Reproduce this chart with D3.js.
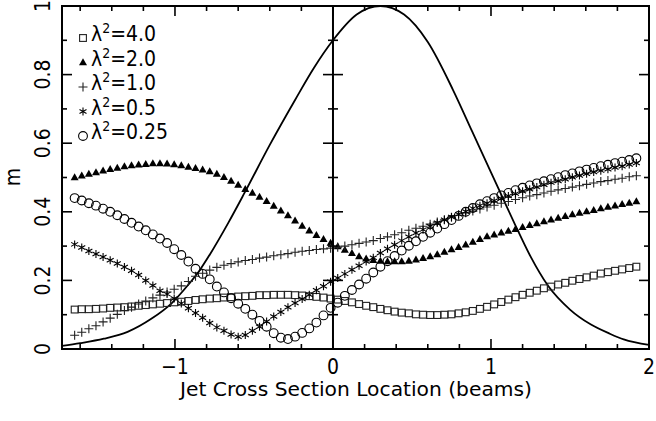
<!DOCTYPE html>
<html><head><meta charset="utf-8">
<script src="https://cdn.jsdelivr.net/npm/d3@7"></script>
<style>html,body{margin:0;padding:0;background:#fff}svg{display:block}</style>
</head><body><svg id="c" width="656" height="421"></svg>
<script>
// Sample positions along the jet cross section (beams)
const xs = [-1.635,-1.59,-1.545,-1.5,-1.455,-1.41,-1.365,-1.32,-1.275,-1.23,-1.185,-1.14,-1.095,-1.05,-1.005,-0.96,-0.915,-0.87,-0.825,-0.78,-0.735,-0.69,-0.645,-0.6,-0.555,-0.51,-0.465,-0.42,-0.375,-0.33,-0.285,-0.24,-0.195,-0.15,-0.105,-0.06,-0.015,0.03,0.075,0.12,0.165,0.21,0.255,0.3,0.345,0.39,0.435,0.48,0.525,0.57,0.615,0.66,0.705,0.75,0.795,0.84,0.885,0.93,0.975,1.02,1.065,1.11,1.155,1.2,1.245,1.29,1.335,1.38,1.425,1.47,1.515,1.56,1.605,1.65,1.695,1.74,1.785,1.83,1.875,1.92];
// lambda^2 = 4.0 (squares)
const m40 = [.115,.116,.116,.117,.118,.120,.121,.122,.124,.126,.128,.130,.132,.134,.136,.138,.140,.143,.145,.147,.148,.150,.151,.153,.154,.155,.157,.157,.158,.158,.158,.157,.156,.154,.152,.150,.147,.144,.140,.136,.131,.126,.122,.117,.113,.109,.106,.104,.101,.100,.099,.099,.100,.101,.104,.107,.111,.117,.123,.130,.137,.144,.151,.158,.164,.170,.177,.182,.188,.193,.199,.204,.209,.214,.220,.224,.228,.232,.236,.240];
// lambda^2 = 2.0 (filled triangles)
const m20 = [.500,.505,.510,.515,.520,.524,.528,.532,.535,.537,.539,.541,.541,.540,.538,.535,.531,.527,.523,.518,.510,.501,.490,.478,.466,.455,.443,.431,.417,.403,.389,.374,.359,.345,.332,.320,.309,.299,.289,.279,.270,.263,.259,.257,.255,.255,.255,.257,.260,.265,.270,.276,.283,.290,.297,.304,.312,.320,.328,.333,.339,.344,.349,.355,.361,.366,.372,.377,.382,.387,.392,.397,.401,.405,.410,.414,.418,.422,.426,.430];
// lambda^2 = 1.0 (plus)
const m10 = [.040,.049,.059,.068,.079,.090,.101,.112,.122,.131,.140,.149,.157,.166,.174,.184,.197,.212,.221,.230,.238,.244,.249,.254,.258,.261,.265,.268,.272,.275,.278,.282,.285,.287,.290,.292,.294,.297,.300,.304,.308,.312,.316,.322,.327,.333,.339,.346,.352,.358,.364,.370,.377,.384,.390,.397,.402,.408,.414,.419,.425,.430,.436,.441,.446,.450,.455,.460,.464,.468,.472,.476,.480,.484,.488,.491,.495,.498,.502,.505];
// lambda^2 = 0.5 (asterisks)
const m05 = [.305,.296,.286,.277,.268,.259,.249,.239,.228,.216,.200,.185,.170,.160,.147,.133,.119,.105,.091,.076,.063,.053,.042,.036,.041,.053,.065,.080,.095,.108,.122,.134,.146,.158,.171,.183,.196,.207,.219,.231,.243,.255,.266,.280,.292,.304,.316,.327,.338,.348,.358,.368,.377,.385,.393,.401,.410,.418,.425,.432,.439,.446,.453,.460,.466,.472,.479,.485,.490,.495,.501,.506,.511,.516,.520,.524,.529,.533,.538,.542];
// lambda^2 = 0.25 (open circles)
const m025 = [.440,.433,.425,.418,.409,.400,.390,.379,.368,.357,.346,.334,.322,.309,.291,.274,.255,.234,.219,.203,.182,.165,.148,.132,.117,.100,.082,.065,.046,.033,.029,.036,.047,.060,.077,.098,.120,.135,.155,.172,.188,.205,.223,.240,.256,.271,.287,.301,.314,.327,.339,.351,.364,.376,.388,.400,.411,.422,.431,.440,.448,.455,.463,.470,.477,.483,.489,.495,.501,.507,.512,.518,.523,.528,.533,.537,.542,.546,.551,.556];
// Beam profile (solid line)
const beamX = [-1.715,-1.6,-1.45,-1.3,-1.15,-1.02,-0.92,-0.84,-0.78,-0.66,-0.56,-0.4,-0.24,-0.12,0,0.15,0.3,0.45,0.6,0.76,0.88,1.0,1.06,1.15,1.25,1.36,1.5,1.63,1.75,1.84,2.0];
const beamM = [.009,.017,.030,.050,.088,.134,.185,.232,.275,.37,.455,.595,.726,.82,.90,.975,1.0,.975,.895,.755,.635,.515,.455,.365,.27,.185,.115,.072,.045,.028,.012];

const legendLabels = ["4.0","2.0","1.0","0.5","0.25"];
const xTickLabels = [-1,0,1,2];
const yTickLabels = [0,0.2,0.4,0.6,0.8,1];
const xTitle = "Jet Cross Section Location (beams)";
const yTitle = "m";

const FONT = "'Liberation Sans Narrow','DejaVu Sans Condensed','Liberation Sans',Arial,sans-serif";
const svg = d3.select("#c");
const L = 62, R = 649, T = 6, B = 349;
const x = d3.scaleLinear().domain([-1.715, 2]).range([L, R]);
const y = d3.scaleLinear().domain([0, 1]).range([B, T]);

// Beam curve
svg.append("path")
  .datum(beamX.map((v,i)=>[v, beamM[i]]))
  .attr("fill","none").attr("stroke","#000").attr("stroke-width",1.8)
  .attr("d", d3.line().x(d=>x(d[0])).y(d=>y(d[1])).curve(d3.curveMonotoneX));

// marker generators
const sym = {
  square: (g)=>g.append("rect").attr("x",-3.4).attr("y",-3.4).attr("width",6.8).attr("height",6.8)
            .attr("fill","none").attr("stroke","#222").attr("stroke-width",1.1),
  tri: (g)=>g.append("path").attr("d","M0,-4.2L4,2.8L-4,2.8Z").attr("fill","#000"),
  plus: (g)=>g.append("path").attr("d","M-4.5,0H4.5M0,-4.5V4.5").attr("stroke","#222").attr("stroke-width",1.1),
  star: (g)=>g.append("path").attr("d","M0,-4V4M-3.5,-2L3.5,2M-3.5,2L3.5,-2").attr("stroke","#000").attr("stroke-width",1.1),
  circle: (g)=>g.append("circle").attr("r",4.4).attr("fill","none").attr("stroke","#000").attr("stroke-width",1.1)
};
const series = [[m40,"square"],[m20,"tri"],[m10,"plus"],[m05,"star"],[m025,"circle"]];
series.forEach(([vals, s])=>{
  const g = svg.append("g");
  vals.forEach((v,i)=>{
    const gg = g.append("g").attr("transform",`translate(${x(xs[i])},${y(v)})`);
    sym[s](gg);
  });
});

// frame
svg.append("rect").attr("x",L).attr("y",T).attr("width",R-L).attr("height",B-T)
  .attr("fill","none").attr("stroke","#000").attr("stroke-width",2);
// zero line
svg.append("line").attr("x1",x(0)).attr("x2",x(0)).attr("y1",T).attr("y2",B)
  .attr("stroke","#000").attr("stroke-width",2);

const tk = svg.append("g").attr("stroke","#000").attr("stroke-width",1.6);
// y ticks: every 0.1, major every 0.2
d3.range(1,10).forEach(k=>{
  const v = k/10, yy = y(v), len = (k%2===0)?10:5;
  tk.append("line").attr("x1",L).attr("x2",L+len).attr("y1",yy).attr("y2",yy);
  tk.append("line").attr("x1",R).attr("x2",R-len).attr("y1",yy).attr("y2",yy);
  tk.append("line").attr("x1",x(0)-len).attr("x2",x(0)+len).attr("y1",yy).attr("y2",yy);
});
// x ticks: every 0.2, major at integers
d3.range(-8,10).forEach(k=>{
  const v = k/5; if (v<=-1.715||v>=2) return;
  const xx = x(v), len = (k%5===0)?10:5;
  tk.append("line").attr("x1",xx).attr("x2",xx).attr("y1",B).attr("y2",B-len);
  tk.append("line").attr("x1",xx).attr("x2",xx).attr("y1",T).attr("y2",T+len);
});

// tick labels
xTickLabels.forEach(v=>{
  svg.append("text").attr("x",x(v)).attr("y",374).attr("text-anchor","middle")
    .attr("font-family",FONT).attr("font-size",21).text(v<0?"\u2212"+Math.abs(v):String(v));
});
yTickLabels.forEach(v=>{
  svg.append("text").attr("transform",`translate(50,${y(v)}) rotate(-90)`).attr("text-anchor","middle")
    .attr("font-family",FONT).attr("font-size",21).text(String(v));
});
svg.append("text").attr("x",356).attr("y",396).attr("text-anchor","middle")
  .attr("font-family",FONT).attr("font-size",20)
  .attr("textLength",352).attr("lengthAdjust","spacingAndGlyphs").text(xTitle);
svg.append("text").attr("transform","translate(20,177) rotate(-90)").attr("text-anchor","middle")
  .attr("font-family",FONT).attr("font-size",21).text(yTitle);

// legend
const legSyms = ["square","tri","plus","star","circle"];
legendLabels.forEach((lab,i)=>{
  const by = 41 + i*24.5;
  const gg = svg.append("g").attr("transform",`translate(83,${by-3})`);
  sym[legSyms[i]](gg);
  const t = svg.append("text").attr("x",91).attr("y",by).attr("font-family",FONT).attr("font-size",21);
  t.append("tspan").text("\u03bb");
  t.append("tspan").attr("dy",-8).attr("font-size",14).text("2");
  t.append("tspan").attr("dy",8).text("=" + lab);
});
</script></body></html>
